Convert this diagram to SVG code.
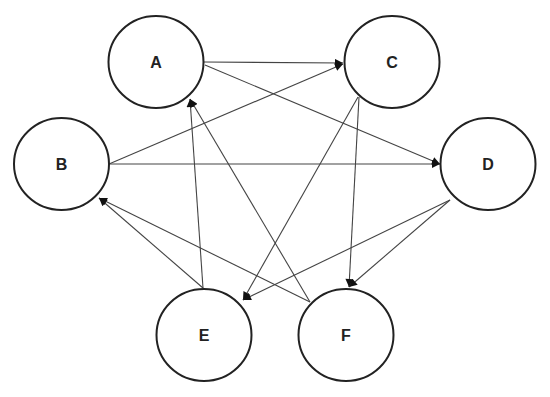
<svg xmlns="http://www.w3.org/2000/svg" width="550" height="397" viewBox="0 0 550 397">
<style>
.node ellipse{fill:#fff;stroke:#222;stroke-width:2}
.node text{font-family:"Liberation Sans",Arial,sans-serif;font-weight:bold;font-size:16px;fill:#222;text-anchor:middle}
.edges line{stroke:#444;stroke-width:1.1;marker-end:url(#arr)}
</style>
<defs>
<marker id="arr" viewBox="0 0 10 10" refX="10" refY="5" markerWidth="9" markerHeight="8" markerUnits="userSpaceOnUse" orient="auto">
<path d="M0,0 L10,5 L0,10 z" fill="#111"/>
</marker>
</defs>
<rect width="550" height="397" fill="#fff"/>
<g class="edges">
<line x1="204" y1="62" x2="343" y2="63"/>
<line x1="205" y1="65" x2="440" y2="164"/>
<line x1="109" y1="164" x2="343" y2="64"/>
<line x1="109" y1="164" x2="440" y2="164"/>
<line x1="358" y1="97" x2="243" y2="300"/>
<line x1="359" y1="97" x2="349" y2="287"/>
<line x1="450" y1="200" x2="243" y2="300"/>
<line x1="450" y1="200" x2="349" y2="287"/>
<line x1="203" y1="288" x2="190" y2="99"/>
<line x1="310" y1="302" x2="190" y2="99"/>
<line x1="203" y1="288" x2="99" y2="198"/>
<line x1="310" y1="302" x2="99" y2="198"/>
</g>
<g id="node-A" class="node"><ellipse cx="156" cy="62" rx="47.5" ry="46"/><text x="156" y="68">A</text></g>
<g id="node-B" class="node"><ellipse cx="61.5" cy="164" rx="47.5" ry="46"/><text x="61.5" y="170">B</text></g>
<g id="node-C" class="node"><ellipse cx="392" cy="62" rx="47.5" ry="46"/><text x="392" y="68">C</text></g>
<g id="node-D" class="node"><ellipse cx="488" cy="164" rx="47.5" ry="46"/><text x="488" y="170">D</text></g>
<g id="node-E" class="node"><ellipse cx="204" cy="335" rx="47.5" ry="46"/><text x="204" y="341">E</text></g>
<g id="node-F" class="node"><ellipse cx="346" cy="335" rx="47.5" ry="46"/><text x="346" y="341">F</text></g>
</svg>
